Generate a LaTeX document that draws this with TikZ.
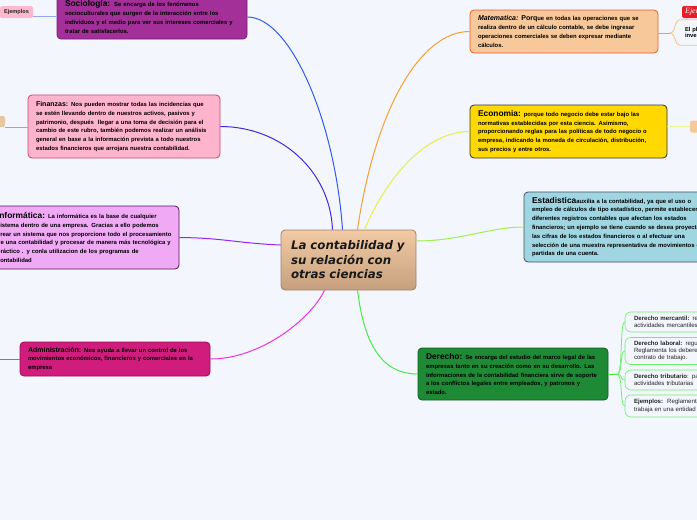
\documentclass[tikz,border=0pt]{standalone}
\usepackage{fontspec}
\setmainfont{Liberation Sans}
\newfontfamily\cenfamily{DejaVu Sans}
\newfontfamily\tagfamily{Liberation Serif}
\usetikzlibrary{calc}
\definecolor{bgcol}{RGB}{243,246,253}
\definecolor{socfill}{RGB}{163,48,152}\definecolor{socdraw}{RGB}{120,30,115}
\definecolor{finfill}{RGB}{255,180,205}\definecolor{findraw}{RGB}{200,70,110}
\definecolor{inffill}{RGB}{240,170,245}\definecolor{infdraw}{RGB}{80,20,90}
\definecolor{admfill}{RGB}{208,28,124}\definecolor{admdraw}{RGB}{150,15,85}
\definecolor{matfill}{RGB}{246,200,154}\definecolor{matdraw}{RGB}{240,90,40}
\definecolor{ecofill}{RGB}{255,216,0}\definecolor{ecodraw}{RGB}{50,50,50}
\definecolor{estfill}{RGB}{160,214,226}\definecolor{estdraw}{RGB}{70,80,90}
\definecolor{derfill}{RGB}{30,138,54}\definecolor{derdraw}{RGB}{15,90,30}
\definecolor{centop}{RGB}{242,202,164}\definecolor{cenbot}{RGB}{198,160,126}\definecolor{cendraw}{RGB}{160,130,110}
\definecolor{soclink}{RGB}{50,90,240}\definecolor{finlink}{RGB}{70,40,220}\definecolor{inflink}{RGB}{150,40,235}
\definecolor{admlink}{RGB}{240,50,220}\definecolor{matlink}{RGB}{245,160,50}\definecolor{ecolink}{RGB}{230,240,70}
\definecolor{estlink}{RGB}{160,240,70}\definecolor{derlink}{RGB}{70,235,70}
\definecolor{soclight}{RGB}{150,170,240}\definecolor{finlight}{RGB}{170,150,240}\definecolor{ecolight}{RGB}{235,245,150}
\definecolor{matpeach}{RGB}{248,195,130}\definecolor{subgreen}{RGB}{110,240,110}
\definecolor{ejpink}{RGB}{255,185,205}\definecolor{ejtan}{RGB}{230,200,160}\definecolor{ejpeach}{RGB}{245,200,160}\definecolor{ejred}{RGB}{230,30,40}
\newcommand{\bodyf}{\fontsize{5.9}{8.8}\selectfont\bfseries}
\newcommand{\subf}{\fontsize{6.1}{7.2}\selectfont}
\newcommand{\ttl}[1]{{\fontsize{7}{8.8}\selectfont #1}}
\newcommand{\ttL}[1]{{\fontsize{8.4}{8.8}\selectfont #1}}
\tikzset{
  topic/.style={draw,rounded corners=4pt,line width=.8pt,align=left,inner xsep=8pt,inner ysep=0pt,font=\bodyf,text=black},
  subitem/.style={draw=subgreen,rounded corners=6pt,line width=.6pt,align=left,inner xsep=9pt,inner ysep=0pt,font=\subf,text width=110pt,text=black!85},
  tagbox/.style={rounded corners=1.5pt,inner sep=0pt,font=\fontsize{5.6}{6}\selectfont\bfseries,text=black!85},
  link/.style={line width=1pt}
}
\begin{document}
\begin{tikzpicture}[x=1pt,y=-1pt]
\fill[bgcol](0,0)rectangle(697,520);
\useasboundingbox(0,0)rectangle(697,520);
\clip(0,0)rectangle(697,520);
% central topic
\node[topic,top color=centop,bottom color=cenbot,draw=cendraw,text width=115pt,inner xsep=10pt,minimum height=60pt,font=\cenfamily\fontsize{11.8}{14.5}\selectfont\bfseries\itshape,text=black!90](cen)at(348.5,260){La contabilidad y\\su relación con\\otras ciencias};
% left topics
\node[topic,fill=socfill,draw=socdraw,text width=174pt,minimum height=44pt](soc)at(152,17){\ttL{Sociología:}\ \ Se encarga de los fenómenos\\socioculturales que surgen de la interacción entre los\\individuos y el medio para ver sus intereses comerciales y\\tratar de satisfacerlos.};
\node[topic,fill=finfill,draw=findraw,text width=176pt,minimum height=63pt](fin)at(124,126.5){\ttl{Finanzas:} Nos pueden mostrar todas las incidencias que\\se estén llevando dentro de nuestros activos, pasivos y\\patrimonio, después\ \ llegar a una toma de decisión para el\\cambio de este rubro, también podemos realizar un análisis\\general en base a la información prevista a todo nuestros\\estados financieros que arrojara nuestra contabilidad.};
\node[topic,fill=inffill,draw=infdraw,text width=174pt,minimum height=63pt](inf)at(84,237.5){\ttL{Informática:} La informática es la base de cualquier\\sistema dentro de una empresa. Gracias a ello podemos\\\mbox{crear un sistema que nos proporcione todo el procesamiento}\\de una contabilidad y procesar de manera más tecnológica y\\práctico . y conla utilizacion de los programas de\\contabilidad};
\node[topic,fill=admfill,draw=admdraw,text width=174pt,minimum height=34pt](adm)at(115,359){\ttl{Administración:} Nos ayuda a llevar un control de los\\movimientos económicos, financieros y comerciales en la\\empresa};
% right topics
\node[topic,fill=matfill,draw=matdraw,text width=172pt,minimum height=43pt](mat)at(564,31.5){\ttl{\itshape Matematica:} {\fontsize{7}{8.8}\selectfont Porq}ue en todas las operaciones que se\\realiza dentro de un cálculo contable, se debe ingresar\\operaciones comerciales se deben expresar mediante\\cálculos.};
\node[topic,fill=ecofill,draw=ecodraw,text width=181pt,minimum height=53pt](eco)at(568.5,131.5){\ttL{Economia:} porque todo negocio debe estar bajo las\\normativas establecidas por esta ciencia. Asimismo,\\proporcionando reglas para las políticas de todo negocio o\\empresa, indicando la moneda de circulación, distribución,\\sus precios y entre otros.};
\node[topic,fill=estfill,draw=estdraw,text width=172pt,minimum height=70pt](est)at(618,227){\ttL{Estadistica}auxilia a la contabilidad, ya que el uso o\\\mbox{empleo de cálculos de tipo estadístico, permite establecer}\\diferentes registros contables que afectan los estados\\\mbox{financieros; un ejemplo se tiene cuando se desea proyectar}\\las cifras de los estados financieros o al efectuar una\\\mbox{selección de una muestra representativa de movimientos o}\\partidas de una cuenta.};
\node[topic,fill=derfill,draw=derdraw,text width=174pt,minimum height=52pt](der)at(513,374){\ttL{Derecho:} Se encarga del estudio del marco legal de las\\empresas tanto en su creación como en su desarrollo. Las\\\mbox{informaciones de la contabilidad financiera sirve de soporte}\\a los conflictos legales entre empleados, y patronos y\\estado.};
% tags and sub items
\node[tagbox,fill=ejpink,minimum width=33pt,minimum height=12pt](ejsoc)at(16.5,12){Ejemplos};
\node[tagbox,fill=ejtan,minimum width=36pt,minimum height=11pt](ejfin)at(-13,121.5){Ejemplos};
\node[tagbox,fill=ejpeach,minimum width=40pt,minimum height=12pt](ejeco)at(710,126.5){Ejemplos};
\node[tagbox,fill=ejred,minimum width=36pt,minimum height=12pt,font=\tagfamily\fontsize{8}{9}\selectfont\itshape,text=white](ejmat)at(700,12){Ejemplos};
\node[align=left,inner xsep=8pt,inner ysep=0pt,text width=70pt,minimum height=25pt,font=\bodyf\fontsize{5.8}{6.8}\selectfont](elpl)at(720,32.5){El plan de\\inversión};
\node[subitem,minimum height=20pt](dera)at(689,322){\textbf{Derecho mercantil:} regula las\\actividades mercantiles};
\node[subitem,minimum height=27pt](derb)at(689,351){\textbf{Derecho laboral:} regula\\Reglamenta los deberes y\\contrato de trabajo.};
\node[subitem,minimum height=20pt](derc)at(689,380){\textbf{Derecho tributario}: para\\actividades tributarias};
\node[subitem,minimum height=22pt](derd)at(689,406){\textbf{Ejemplos:}\ \ Reglamenta\\trabaja en una entidad};
\coordinate(admL)at(-3,359);\coordinate(matB)at(670,33);\coordinate(derB)at(617,374);
% connectors from the centre
\draw[link,soclink]($(cen.north)+(-6,0)$)..controls(335,120)and(290,17)..(soc.east);
\draw[link,finlink]($(cen.north)+(-16,0)$)..controls(330,170)and(280,126.5)..(fin.east);
\draw[link,inflink]($(cen.west)+(0,-15)$)..controls(235,243)and(225,238)..(inf.east);
\draw[link,admlink]($(cen.south)+(-24,0)$)..controls(310,320)and(260,359)..(adm.east);
\draw[link,matlink]($(cen.north)+(9,0)$)..controls(375,110)and(420,31.5)..(mat.west);
\draw[link,ecolink]($(cen.north)+(16,0)$)..controls(390,170)and(430,131.5)..(eco.west);
\draw[link,estlink]($(cen.east)+(0,-19)$)..controls(460,241)and(490,227)..(est.west);
\draw[link,derlink]($(cen.south)+(9,0)$)..controls(365,350)and(385,374)..(der.west);
% sub connectors
\draw[link,soclight]($(ejsoc.east)+(0,4)$)--($(ejsoc.east-|soc.west)+(0,4)$);
\draw[link,finlight](ejfin.south east)--(ejfin.south east-|fin.west);
\draw[link,admlink](admL)--(adm.west);
\draw[link,ecolight](ejeco.west-|eco.east)--(ejeco.west);
\draw[link,matlink](mat.east|-matB)--(matB);
\draw[line width=.8pt,matpeach](elpl.north east)--($(elpl.north west)+(3,0)$)..controls(674,20)and(676,33)..(matB)..controls(676,33)and(674,45)..($(elpl.south west)+(3,0)$)--(elpl.south east);
\draw[link,derlink](der.east)--(derB);
\foreach \s in {dera,derb,derc,derd}\draw[line width=.8pt,subgreen](derB)..controls+(6,0)and+(-5,0)..(\s.west);
\end{tikzpicture}
\end{document}
